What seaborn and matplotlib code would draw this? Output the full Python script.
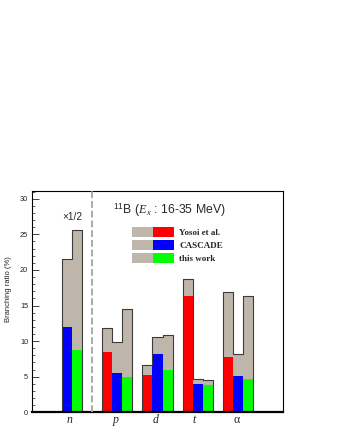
import numpy as np
import pandas as pd
import matplotlib
matplotlib.use('Agg')
import matplotlib.pyplot as plt
import seaborn as sns
from matplotlib.patches import Patch
from matplotlib.legend_handler import HandlerTuple
from matplotlib.ticker import MultipleLocator

# Particle groups (x axis) and where each group of three bins starts
particles = ['n', 'p', 'd', 't', 'α']
group_start = [2, 7, 11, 15, 19]
label_pos = [3.75, 8.3, 12.3, 16.1, 20.4]

# Branching ratios (%) -- gray = total, colour = partial
yosoi_total = [0.0, 11.8, 6.6, 18.75, 16.95]
yosoi_part = [0.0, 8.5, 5.3, 16.4, 7.75]
cascade_total = [21.6, 9.9, 10.6, 4.65, 8.15]
cascade_part = [12.0, 5.5, 8.2, 4.0, 5.05]
thiswork_total = [25.6, 14.45, 10.85, 4.5, 16.3]
thiswork_part = [8.8, 5.0, 5.95, 3.9, 4.65]

series = ['Yosoi et al.', 'CASCADE', 'this work']
colors = ['#ff0000', '#0000ff', '#00ff00']
gray = '#bfb6ab'

totals = [yosoi_total, cascade_total, thiswork_total]
parts = [yosoi_part, cascade_part, thiswork_part]

rows = []
for i, pname in enumerate(particles):
    for k, sname in enumerate(series):
        rows.append({'particle': pname, 'series': sname,
                     'x': group_start[i] + k + 0.5,
                     'total': totals[k][i], 'part': parts[k][i]})
df = pd.DataFrame(rows)

sns.set_style('ticks')
plt.rcParams['font.family'] = ['Liberation Sans', 'DejaVu Sans']
plt.rcParams['mathtext.fontset'] = 'custom'
plt.rcParams['mathtext.rm'] = 'Liberation Sans'
plt.rcParams['mathtext.it'] = 'Liberation Serif:italic'

fig = plt.figure(figsize=(3.4, 4.4), dpi=100)
ax = fig.add_axes([0.0932, 0.063, 0.74, 0.503])

bins = list(range(0, 26))
sns.histplot(data=df, x='x', weights='total', bins=bins, element='bars',
             color=gray, alpha=1, linewidth=0, ax=ax)
for sname, c in zip(series, colors):
    sns.histplot(data=df[df['series'] == sname], x='x', weights='part', bins=bins,
                 element='bars', color=c, alpha=1, linewidth=0, ax=ax)
sns.histplot(data=df, x='x', weights='total', bins=bins, element='step', fill=False,
             color='#3c3c3c', linewidth=0.8, ax=ax)

ax.axvline(6, color='#aaaaaa', lw=1.4, dashes=(3.5, 1.5), zorder=5)

ax.set_xlim(0, 25)
ax.set_ylim(0, 31.1)

# axes styling (ROOT-like)
for side in ['top', 'right', 'left']:
    ax.spines[side].set_linewidth(0.8)
    ax.spines[side].set_color('black')
ax.spines['bottom'].set_linewidth(1.6)
ax.spines['bottom'].set_color('black')

ax.yaxis.set_major_locator(MultipleLocator(5))
ax.yaxis.set_minor_locator(MultipleLocator(1))
ax.tick_params(axis='y', which='major', direction='in', length=5, width=0.6,
               labelsize=5.3, pad=2.5, colors='#222222')
ax.tick_params(axis='y', which='minor', direction='in', length=2.5, width=0.5,
               colors='#222222')

ax.set_xticks(label_pos)
ax.set_xticklabels(particles, fontfamily='Liberation Serif', fontstyle='italic', fontsize=8.5)
ax.get_xticklabels()[-1].set_fontstyle('normal')
ax.tick_params(axis='x', which='both', length=0, pad=1)

ax.set_xlabel('')
ax.set_ylabel('Branching ratio (%)', fontsize=5.5, color='#222222')
ax.yaxis.set_label_coords(-0.08, 0.557)

ax.text(0.323, 0.914, r'$^{11}$B ($E_x$ : 16-35 MeV)', transform=ax.transAxes,
        fontsize=8.8, va='center', ha='left')
ax.text(4.0, 27.5, '×1/2', ha='center', va='center', fontsize=7.3)

handles = [(Patch(facecolor=gray, lw=0), Patch(facecolor=c, lw=0)) for c in colors]
leg = ax.legend(handles, series, handler_map={tuple: HandlerTuple(ndivide=None, pad=0)},
                loc='upper left', bbox_to_anchor=(0.399, 0.837), frameon=False,
                borderpad=0, borderaxespad=0, handlelength=4.6, handleheight=1.25,
                labelspacing=0.37, handletextpad=0.6,
                prop={'family': 'Liberation Serif', 'weight': 'bold', 'size': 6.5})

fig.savefig('out.png', dpi=100)
